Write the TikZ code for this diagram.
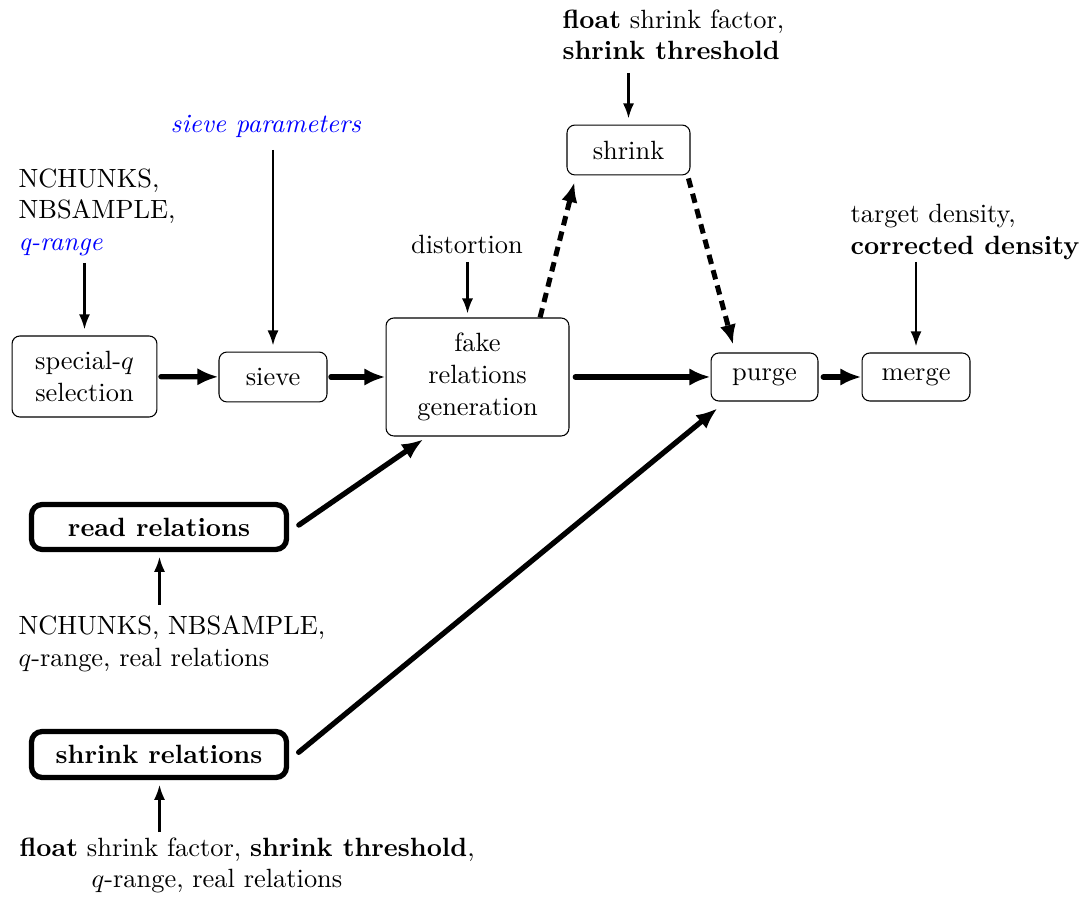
\documentclass[tikz,border=0pt]{standalone}
\usetikzlibrary{arrows.meta}
\begin{document}
\begin{tikzpicture}[x=0.3788pt,y=-0.3788pt,
  box/.style={draw, rounded corners=3pt, inner sep=0pt, align=center, line width=0.4pt},
  bigbox/.style={draw, rounded corners=4pt, inner sep=0pt, align=center, line width=2pt},
  lab/.style={inner sep=0pt, align=left},
  thinarrow/.style={line width=0.8pt, -{Latex[length=5.7pt,width=4.2pt]}, shorten >=2.3pt},
  thickarrow/.style={line width=2pt, line cap=round, -{Latex[length=8pt,width=6.6pt]}, shorten <=1.3pt},
  dasharrow/.style={line width=1.9pt, dash pattern=on 3.6pt off 2.4pt, -{Latex[length=7.5pt,width=6.2pt]}}
]
\useasboundingbox (0,0) rectangle (1085,897);

% boxes
\node[box, minimum width=54.9pt, minimum height=30.7pt] (qsel) at (84.5,376.5) {special-$q$\\selection};
\node[box, minimum width=40.9pt, minimum height=18.9pt] (sieve) at (273,377) {sieve};
\node[box, minimum width=69.3pt, minimum height=44.7pt] (fake) at (477.5,377) {fake\\relations\\generation};
\node[box, minimum width=46.6pt, minimum height=18.9pt] (shrink) at (628.5,150) {shrink};
\node[box, minimum width=40.5pt, minimum height=18.2pt] (purge) at (764.5,377) {purge};
\node[box, minimum width=40.9pt, minimum height=18.2pt] (merge) at (916,377) {merge};
\node[bigbox, minimum width=96.6pt, minimum height=17pt] (read) at (159,527) {\textbf{read relations}};
\node[bigbox, minimum width=96.6pt, minimum height=17.4pt] (srel) at (159,754.5) {\textbf{shrink relations}};

% labels
\node[lab, anchor=north west] (l1) at (18,168) {NCHUNKS,\\NBSAMPLE,\\\textcolor{blue}{\textit{q-range}}};
\node[lab, anchor=base] (l2) at (266,133) {\textcolor{blue}{\textit{sieve parameters}}};
\node[lab, anchor=base] (l3) at (467,254) {distortion};
\node[lab, anchor=north west] (l4) at (562,9) {\textbf{float} shrink factor,\\\textbf{shrink threshold}};
\node[lab, anchor=north west] (l5) at (850,204) {target density,\\\textbf{corrected density}};
\node[lab, anchor=north west] (l6) at (18,615) {NCHUNKS, NBSAMPLE,\\$q$-range, real relations};
\node[lab, anchor=north west] (l7) at (19,837) {\textbf{float} shrink factor, \textbf{shrink threshold},\\\hspace*{27.3pt}$q$-range, real relations};

% free ends of input arrows
\coordinate (a1) at (84.5,263);
\coordinate (a2) at (273,150);
\coordinate (a3) at (467.5,262);
\coordinate (a4) at (628.5,73);
\coordinate (a5) at (916,262);
\coordinate (a6) at (159.5,605);
\coordinate (a7) at (159.5,832);

\draw[thinarrow] (a1) -- (a1 |- qsel.north);
\draw[thinarrow] (a2) -- (a2 |- sieve.north);
\draw[thinarrow, shorten >=1.5pt] (a3) -- (a3 |- fake.north);
\draw[thinarrow] (a4) -- (a4 |- shrink.north);
\draw[thinarrow] (a5) -- (a5 |- merge.north);
\draw[thinarrow, shorten >=1.8pt] (a6) -- (a6 |- read.south);
\draw[thinarrow, shorten >=1.8pt] (a7) -- (a7 |- srel.south);

% main flow
\draw[thickarrow] (qsel) -- (sieve);
\draw[thickarrow] (sieve) -- (fake);
\draw[thickarrow, shorten <=2.2pt] (fake) -- (purge);
\draw[thickarrow, shorten <=1.8pt] (purge) -- (merge);
\draw[thickarrow] ([xshift=2.6pt]read.east) -- ([xshift=-20.6pt,yshift=-1.1pt]fake.south);
\draw[thickarrow] ([xshift=2.6pt]srel.east) -- ([xshift=2.6pt,yshift=-2.6pt]purge.south west);

% dashed
\draw[dasharrow] ([xshift=23.7pt]fake.north) -- ([xshift=3pt,yshift=-2.6pt]shrink.south west);
\draw[dasharrow] ([xshift=-0.8pt,yshift=-1.1pt]shrink.south east) -- ([xshift=-11.9pt,yshift=3pt]purge.north);
\end{tikzpicture}
\end{document}
